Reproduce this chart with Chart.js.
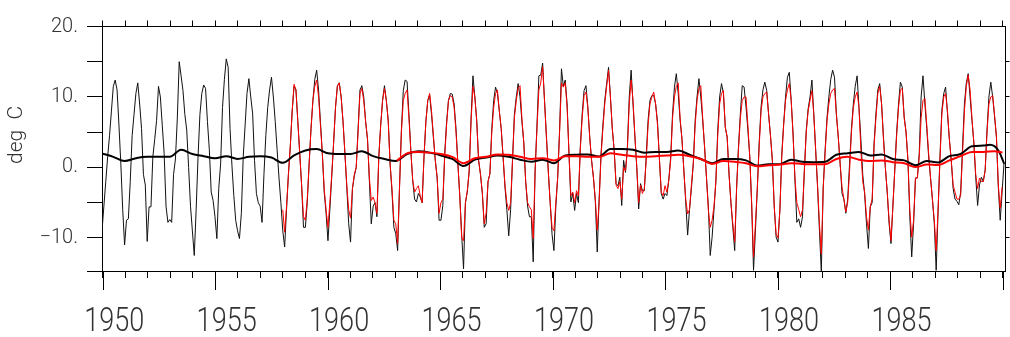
<!DOCTYPE html>
<html>
<head>
<meta charset="utf-8">
<script src="https://cdn.jsdelivr.net/npm/chart.js@4.4.1/dist/chart.umd.min.js"></script>
<style>
  html, body { margin: 0; padding: 0; background: #fff; }
  canvas { display: block; }
</style>
</head>
<body>
<canvas id="graph" width="1010" height="337"></canvas>
<script>
// monthly values, Jan 1950 .. Dec 1989 (black) and Jan 1958 .. Nov 1989 (red)
const blackMonthly = [
  -9, -5.5, -2, 1.5, 4.5, 8, 11.5, 12.4, 11, 6, 0.5, -6,            // 1950
  -11, -7.5, -7.3, -2, 4.5, 7.5, 10.5, 12, 9, 5.5, -1, -2.5,         // 1951
  -10.5, -5.6, -5.6, 1.5, 4, 6.7, 11.5, 10, 6, 2, -5.5, -7.8,        // 1952
  -7.4, -7.8, -1, 1.2, 7, 15, 13, 10.9, 7.5, 5.3, 0, -5.5,           // 1953
  -9, -12.5, -6, 1.5, 7.5, 10.5, 11.7, 11.2, 6.5, 2.5, -3.5, -4.7,   // 1954
  -7, -10.1, -3, 0.5, 8.5, 12.5, 15.4, 14.2, 5.5, 0.3, -4, -7.5,     // 1955
  -9, -10.1, -6.5, 1.5, 6, 10.5, 12.6, 10, 7.6, 1, -3.7, -5,         // 1956
  -5.5, -7.8, -1, 4.5, 8.5, 11, 12.8, 10, 6.5, 2.5, -1.5, -5,        // 1957
  -9, -11.3, -6, -1, 3, 8, 11.5, 11, 6.5, 2, -2.5, -8.5,             // 1958
  -8.5, -5, 0.5, 5.5, 9.5, 12.5, 13.8, 11, 6.5, 2, -3.5, -6.5,       // 1959
  -10.4, -6, -1.4, 3.5, 8.5, 11.6, 12, 10, 6.5, 2, -2.8, -8,         // 1960
  -10.6, -3, -1.2, 0, 5.5, 11, 11.6, 10, 6.5, 4, -2, -8,             // 1961
  -5.5, -5, -7, 1.5, 6, 9.5, 11.6, 9.5, 6.7, 0.5, -3.5, -8.5,        // 1962
  -9.4, -11.8, -2.8, 5.3, 10.9, 12.4, 12.2, 7.6, 2.4, -1.8, -4.5, -4.9, // 1963
  -3.7, -4.2, -5, 1.5, 6.5, 9.5, 10.2, 7.5, 4.2, 1, -1.5, -7.5,      // 1964
  -7.5, -5.4, 2, 6.5, 9.5, 10.5, 10.4, 9, 5.5, 0.5, -4, -9.5,        // 1965
  -14.4, -5, -3.5, -0.5, 7, 13, 10, 6.7, 1, -1, -3.7, -8.5,          // 1966
  -8, -2, -0.9, 5.5, 9.5, 11.4, 10.5, 8, 5.5, 1.5, -2.8, -6,         // 1967
  -9.7, -6, 1, 7.5, 10, 11.9, 10, 6.5, 3.5, -2, -5.5, -7,            // 1968
  -7, -13.4, -0.5, 6, 13, 13.1, 14.8, 9.5, 4.5, -0.5, -5, -9.5,      // 1969
  -11.8, -5.6, -1.4, 5.3, 14, 11.5, 12.4, 9, 1.9, -4.9, -3.7, -6.1,  // 1970
  -3.7, -5, 2.9, 7.6, 10.9, 11.6, 8.6, 4.3, 1, -1.5, -4.9, -12,      // 1971
  -4.5, 1.9, 6, 9.5, 11.9, 14.2, 10, 5.5, 2.4, -2.3, -2.6, -1.4,     // 1972
  -5.4, 1, -0.7, 2.9, 10, 13.8, 9, 4.3, 0, -5.9, -2.3, -3.3,         // 1973
  -3.3, 1.5, 6.7, 9.5, 10.2, 10.2, 9, 6.5, 1.3, -3.7, -4.5, -3.7,    // 1974
  -4, -1.8, 1.5, 7.6, 11.4, 13.3, 10.5, 6.7, 4, -0.4, -5, -9.6,      // 1975
  -6, -3, 0.5, 6.7, 10, 12.6, 10, 6.7, 2.9, -1.4, -5.5, -12.5,       // 1976
  -9.9, -6, -2, 5.3, 10, 11.9, 10.5, 5.7, 4.3, -1, -5, -8.5,         // 1977
  -11.8, -3, 2.9, 7.6, 11.6, 11.4, 8.6, 5.3, 1.5, -5.2, -14.6, -9,   // 1978
  -3, 3.5, 8.6, 11, 12.1, 10.9, 7.6, 4.5, 1, -5.6, -9.9, -10.6,      // 1979
  -6, 1.9, 6.2, 10, 12.8, 13.5, 9.5, 4.8, -1.8, -7.8, -7.3, -8.5,    // 1980
  -7, -0.4, 5.3, 8.3, 10, 12.4, 7.6, 2.4, -2.8, -9, -14.8, -2.8,     // 1981
  2.4, 7, 10, 12.5, 13.8, 12.8, 7.6, 4.3, 0.5, -3.7, -4.5, -6.5,     // 1982
  -4.5, 0.5, 5.5, 9, 11.5, 13, 8.5, 4, -1, -3.8, -8, -11.5,          // 1983
  -5.6, -5, 3.4, 7.6, 11, 11.9, 9, 4.3, 0, -3.5, -8, -10.8,          // 1984
  -5.5, -0.4, 5, 9, 12.1, 11.4, 7.2, 5, 1, -7, -12.7, -8,            // 1985
  -1.5, -1.5, 2, 10, 13, 9, 5.5, 1.5, -1.5, -4.5, -8, -14.6,         // 1986
  -6.3, 1.5, 8.1, 10.5, 11.4, 7.6, 4, 1, -3, -4.5, -4.8, -5.3,       // 1987
  -3.5, 2.9, 9, 12, 13.3, 10, 6.7, 3.5, -1.4, -5.4, -2.5, -1.4,      // 1988
  -2, -0.4, 5.3, 10, 12.1, 10, 7.2, 4.3, -2.8, -7.5, -3.5, 0.5       // 1989
];

const redStartMonth = 96; // Jan 1958
const redMonthly = [
  -6, -9.2, -5.5, -1, 3, 8, 11.8, 11, 6.5, 2, -2.5, -7,              // 1958
  -7.5, -4.5, 0.5, 5.5, 9.5, 11.5, 12.4, 10, 6, 2, -3, -6,           // 1959
  -8.5, -5, -1, 3.5, 8.5, 11.5, 12, 10, 6.5, 2, -2.5, -6,            // 1960
  -7.2, -3, -1, 0, 5, 10.5, 11.2, 9.5, 6.5, 4, -1.5, -4.7,           // 1961
  -4.2, -5, -6.5, 1.5, 6, 9.5, 11.2, 9.5, 6.5, 0.5, -3, -7.5,        // 1962
  -8, -10.8, -2.8, 5, 9.5, 10.5, 11, 7, 2.4, -1.8, -3.5, -3,         // 1963
  -2.6, -4, -5, 1.5, 6.5, 9.5, 10.5, 8, 4.5, 1, -1.5, -6.5,          // 1964
  -5, -4.5, 1.5, 6, 9.5, 10.2, 10, 8.5, 5, 0.5, -4, -10,             // 1965
  -10.4, -5, -3.3, -0.5, 6.5, 11.5, 10, 6.5, 1, -1, -3.7, -8,        // 1966
  -6.5, -2, -0.9, 5, 8.5, 10.5, 11, 8, 5.5, 1.5, -2.5, -5,           // 1967
  -6.1, -5, 1, 7, 9.5, 11.3, 11.6, 7, 3.5, -2, -5, -5.6,             // 1968
  -6, -10.1, -0.5, 5.5, 11, 12, 14.3, 9.5, 4.3, -0.5, -5, -8.5,      // 1969
  -9, -5, -1.4, 5, 12, 11.4, 12, 8.5, 2, -4, -3.5, -5,               // 1970
  -3.3, -4, 2.5, 7, 10.2, 10.7, 8.5, 4.3, 1, -1.5, -4.5, -8.9,       // 1971
  -5, 1.5, 5.5, 9, 11.5, 13.8, 10, 5.5, 2.4, -2.5, -3, -2,           // 1972
  -4.5, 0, -0.5, 2.5, 9, 12.4, 9.5, 4.5, 0, -5, -2.5, -3.7,          // 1973
  -3, 1, 6, 9, 10, 10.7, 9, 6, 1.3, -3.5, -4, -2.6,                  // 1974
  -3.5, -1.8, 1, 7, 10, 11.5, 12, 7, 4, -0.5, -4.5, -6.6,            // 1975
  -6, -2.5, 0.5, 6, 9.5, 11.2, 11.6, 7, 2.9, -1.4, -6, -8.5,         // 1976
  -7.5, -5.5, -2, 4.5, 9, 10.5, 10.9, 5.7, 4.3, -1, -5, -8,          // 1977
  -10.6, -3, 2.5, 7, 9.5, 10, 10, 6, 1.5, -5, -12.7, -8,             // 1978
  -3, 3, 8, 10, 10.5, 10.7, 7.5, 4.5, 1, -5.5, -9.5, -10,            // 1979
  -6, 1.5, 6, 9.5, 11, 11.9, 9.5, 4.5, -1.5, -5, -6, -7,             // 1980
  -6, -0.5, 5, 8, 9.5, 10.9, 7.5, 2.4, -2.5, -8, -12.3, -3,          // 1981
  2, 6.5, 9, 10.5, 11, 11.2, 7.5, 4.3, 0.5, -2.8, -4.5, -6.3,        // 1982
  -5, -0.5, 5, 8.5, 10, 10.7, 8.5, 2.5, -2, -3.5, -7, -8.9,          // 1983
  -5.5, -4.5, 3, 7, 10.5, 11.5, 9, 4, 0, -3.5, -7.5, -10.4,          // 1984
  -5.5, -0.5, 4.5, 8.5, 11, 11.2, 7, 5, 1, -6, -9.9, -7.5,           // 1985
  -1.5, -1.5, 1.5, 7, 9.5, 9.8, 6, 2, -1.5, -4.5, -7.5, -11.8,       // 1986
  -6, 1, 7.5, 10, 10.5, 8, 4, 1, -2.5, -3.5, -4.5, -4.5,             // 1987
  -4, 2, 8, 11.5, 13.1, 11, 7, 3.5, -1, -3, -1.5, -2,                // 1988
  -2, -0.5, 5, 9, 10, 10.2, 7.5, 4.3, -2.5, -5.8, -2.8               // 1989
];

// smoothed curves, read at half-year steps
const blackSmoothTime = [
  1950.0, 1950.5, 1951.0, 1951.5, 1952.0, 1952.5, 1953.0, 1953.5, 1954.0, 1954.5,
  1955.0, 1955.5, 1956.0, 1956.5, 1957.0, 1957.5, 1958.0, 1958.5, 1959.0, 1959.5,
  1960.0, 1960.5, 1961.0, 1961.5, 1962.0, 1962.5, 1963.0, 1963.5, 1964.0, 1964.5,
  1965.0, 1965.5, 1966.0, 1966.5, 1967.0, 1967.5, 1968.0, 1968.5, 1969.0, 1969.5,
  1970.0, 1970.5, 1971.0, 1971.5, 1972.0, 1972.5, 1973.0, 1973.5, 1974.0, 1974.5,
  1975.0, 1975.5, 1976.0, 1976.5, 1977.0, 1977.5, 1978.0, 1978.5, 1979.0, 1979.5,
  1980.0, 1980.5, 1981.0, 1981.5, 1982.0, 1982.5, 1983.0, 1983.5, 1984.0, 1984.5,
  1985.0, 1985.5, 1986.0, 1986.5, 1987.0, 1987.5, 1988.0, 1988.5, 1989.0, 1989.3,
  1989.67, 1989.93
];
const blackSmooth = [
  2.0, 1.5, 0.9, 1.3, 1.5, 1.5, 1.5, 2.5, 1.9, 1.6,
  1.3, 1.6, 1.2, 1.5, 1.6, 1.4, 0.65, 1.7, 2.4, 2.6,
  2.0, 1.9, 1.9, 2.3, 1.6, 1.2, 0.9, 1.9, 2.3, 2.1,
  1.7, 1.2, 0.2, 1.1, 1.4, 1.7, 1.5, 1.1, 0.8, 1.1,
  0.6, 1.7, 1.8, 1.85, 1.55, 2.6, 2.6, 2.5, 2.1, 2.2,
  2.2, 2.4, 1.8, 1.2, 0.6, 1.2, 1.2, 1.0, 0.25, 0.45,
  0.45, 1.1, 0.8, 0.75, 0.8, 1.8, 2.0, 2.2, 1.7, 1.85,
  1.2, 1.0, 0.3, 0.9, 0.7, 1.6, 1.9, 3.0, 3.1, 3.2,
  2.4, 0.5
];
const redSmoothTime = [
  1963.05, 1963.5, 1964.0, 1964.5, 1965.0, 1965.5, 1966.0, 1966.5, 1967.0, 1967.5,
  1968.0, 1968.5, 1969.0, 1969.5, 1970.0, 1970.5, 1971.0, 1971.5, 1972.0, 1972.5,
  1973.0, 1973.5, 1974.0, 1974.5, 1975.0, 1975.5, 1976.0, 1976.5, 1977.0, 1977.5,
  1978.0, 1978.5, 1979.0, 1979.5, 1980.0, 1980.5, 1981.0, 1981.5, 1982.0, 1982.5,
  1983.0, 1983.5, 1984.0, 1984.5, 1985.0, 1985.5, 1986.0, 1986.5, 1987.0, 1987.5,
  1988.0, 1988.5, 1989.0, 1989.5, 1989.85
];
const redSmooth = [
  0.95, 2.0, 2.2, 2.1, 1.9, 1.5, 0.6, 1.3, 1.5, 1.85,
  1.8, 1.5, 1.2, 1.3, 1.0, 1.6, 1.6, 1.5, 1.5, 2.0,
  1.8, 1.6, 1.5, 1.6, 1.7, 1.8, 1.6, 1.2, 0.5, 0.9,
  0.8, 0.6, 0.15, 0.3, 0.4, 0.6, 0.5, 0.45, 0.45, 1.2,
  1.5, 1.1, 0.9, 1.0, 0.75, 0.6, 0.05, 0.4, 0.35, 1.0,
  1.6, 2.2, 2.2, 2.3, 2.1
];

const yTicks = [-14.7, -10, -5, 0, 5, 10, 15, 20];
const yLabelled = [-10, 0, 10, 20];
const yTicksRight = [-10, -5, 0, 5, 10, 15];
const xLabelYears = [1950, 1955, 1960, 1965, 1970, 1975, 1980, 1985];
const xMajorYears = [1950, 1955, 1960, 1965, 1970, 1975, 1980, 1985, 1990];

const axisMin = 1949.96;
const axisMax = 1990.12;
const yMin = -14.7;
const yMax = 20;

// where month i of the series sits on the year axis
const firstMonthX = 1949.96;
const monthStepX = 0.0837;

const yearTicks = [];
for (let yr = 1950; yr <= 1990; yr++) yearTicks.push(yr);

const monthX = i => firstMonthX + i * monthStepX;
const toAxis = t => monthX((t - 1950) * 12);

const blackPts = blackMonthly.map((v, i) => ({ x: monthX(i), y: v }));
const redPts = redMonthly.map((v, j) => ({ x: monthX(redStartMonth + j), y: v }));
const blackSmoothPts = blackSmooth.map((v, i) => ({ x: toAxis(blackSmoothTime[i]), y: v }));
const redSmoothPts = redSmooth.map((v, i) => ({ x: toAxis(redSmoothTime[i]), y: v }));

const thinFont = "Roboto, 'Liberation Sans', Arial, sans-serif";
const textColor = '#333';

// long ticks every 5 years, narrow year labels, axis title
const frameExtras = {
  id: 'frameExtras',
  afterDraw(chart) {
    const ctx = chart.ctx;
    const x = chart.scales.x;
    const area = chart.chartArea;
    ctx.save();
    ctx.strokeStyle = '#000';
    ctx.lineWidth = 1;
    ctx.beginPath();
    xMajorYears.forEach(yr => {
      const px = Math.round(x.getPixelForValue(yr)) + 0.5;
      ctx.moveTo(px, area.bottom);
      ctx.lineTo(px, area.bottom + 19);
    });
    ctx.stroke();

    ctx.font = '300 33px ' + thinFont;
    ctx.fillStyle = textColor;
    ctx.textAlign = 'center';
    ctx.textBaseline = 'alphabetic';
    xLabelYears.forEach(yr => {
      ctx.save();
      ctx.translate(x.getPixelForValue(yr + 0.5), 330.5);
      ctx.scale(0.82, 1);
      ctx.fillText(String(yr), 0, 0);
      ctx.restore();
    });

    ctx.translate(17, 135);
    ctx.rotate(-Math.PI / 2);
    ctx.font = '300 21px ' + thinFont;
    ctx.textBaseline = 'middle';
    ctx.fillText('deg  C', 0, 0);
    ctx.restore();
  }
};

const fmtY = v => (v < 0 ? '\u2212' + (-v) : String(v)) + '.';

const noSidePadding = s => { s.paddingLeft = 0; s.paddingRight = 0; };

const lineBase = {
  pointRadius: 0,
  borderJoinStyle: 'round',
  fill: false,
  xAxisID: 'x',
  yAxisID: 'y',
};

const ctx = document.getElementById('graph').getContext('2d');
const chart = new Chart(ctx, {
  type: 'line',
  data: {
    datasets: [
      { ...lineBase, label: 'red smooth', data: redSmoothPts, borderColor: '#ff0000',
        borderWidth: 2, cubicInterpolationMode: 'monotone', order: 1 },
      { ...lineBase, label: 'black smooth', data: blackSmoothPts, borderColor: '#000000',
        borderWidth: 2, cubicInterpolationMode: 'monotone', order: 2 },
      { ...lineBase, label: 'red', data: redPts, borderColor: '#ff0000',
        borderWidth: 1, tension: 0, order: 3 },
      { ...lineBase, label: 'black', data: blackPts, borderColor: '#111111',
        borderWidth: 1, tension: 0, order: 4 },
    ]
  },
  options: {
    responsive: false,
    animation: false,
    devicePixelRatio: 1,
    layout: { padding: 0 },
    plugins: {
      legend: { display: false },
      tooltip: { enabled: false },
    },
    scales: {
      x: {
        type: 'linear',
        position: 'bottom',
        min: axisMin,
        max: axisMax,
        afterBuildTicks: s => { s.ticks = yearTicks.map(v => ({ value: v })); },
        afterFit: s => { s.height = 66; noSidePadding(s); },
        ticks: {
          autoSkip: false,
          maxRotation: 0,
          callback: () => '',
        },
        grid: { drawOnChartArea: false, tickLength: 7, tickColor: '#000', tickWidth: 1 },
        border: { display: true, color: '#000', width: 1 },
      },
      x2: {
        type: 'linear',
        position: 'top',
        min: axisMin,
        max: axisMax,
        afterBuildTicks: s => { s.ticks = yearTicks.map(v => ({ value: v })); },
        afterFit: s => { s.height = 26.5; noSidePadding(s); },
        ticks: { display: false },
        grid: { drawOnChartArea: false, tickLength: 6, tickColor: '#000' },
        border: { display: true, color: '#000', width: 1 },
      },
      y: {
        position: 'left',
        min: yMin,
        max: yMax,
        afterBuildTicks: s => { s.ticks = yTicks.map(v => ({ value: v })); },
        afterFit: s => { s.width = 102; },
        ticks: {
          padding: 9,
          color: textColor,
          font: { family: thinFont, size: 20, weight: '300' },
          callback: v => yLabelled.includes(v) ? fmtY(v) : '',
        },
        grid: { drawOnChartArea: false, tickLength: 15, tickColor: '#000' },
        border: { display: true, color: '#000', width: 1 },
      },
      y2: {
        position: 'right',
        min: yMin,
        max: yMax,
        afterBuildTicks: s => { s.ticks = yTicksRight.map(v => ({ value: v })); },
        afterFit: s => { s.width = 4.5; },
        ticks: { display: false },
        grid: { drawOnChartArea: false, tickLength: 4, tickColor: '#000' },
        border: { display: true, color: '#000', width: 1 },
      },
    }
  },
  plugins: [frameExtras]
});
</script>
</body>
</html>
